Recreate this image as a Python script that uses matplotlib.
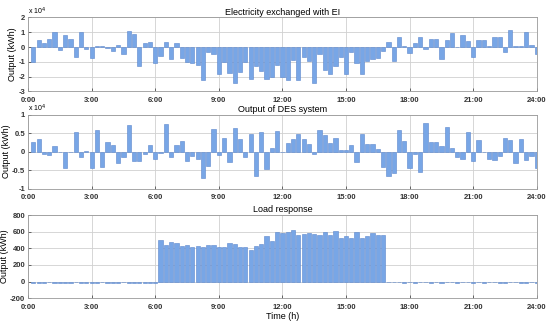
import numpy as np
import matplotlib.pyplot as plt

plt.rcParams['font.family'] = ['Liberation Sans', 'DejaVu Sans']

# 15-min steps, hours
hours = np.arange(1, 97) * 0.25

# electricity exchanged with EI (x 10^4 kWh)
exchange_e4 = [-1.0, 0.5, 0.3, 0.55, 1.0, -0.2, 0.8, 0.55, -0.7, 1.0, -0.15, -0.75,
               0.1, 0.05, -0.05, -0.25, 0.15, -0.5, 1.05, 0.9, -1.25, 0.3, 0.35,
               -1.1, -0.6, 0.35, -0.8, 0.25, -0.75, -1.0, -1.05, -1.2, -2.2, -0.35, -0.5,
               -1.85, -1.0, -1.75, -2.45, -1.7, -1.0, -2.15, -1.3, -1.6, -2.15, -2.05, -1.2,
               -2.0, -2.25, -0.85, -2.2, -0.7, -0.95, -2.4, -0.5, -1.55, -1.85, -1.25, -0.7,
               -1.8, -0.35, -1.05, -1.8, -0.95, -0.8, -0.75, -0.3, 0.35, -0.95, 0.65, 0.1,
               -0.4, 0.25, 0.65, -0.15, 0.55, 0.55, -0.8, 0.5, 0.95, 0.0, 0.8, 0.4,
               -0.7, 0.5, 0.5, 0.05, 0.7, 0.65, -0.35, 1.15, 0.05, 0.05, 1.0, 0.15, -0.45]

# output of DES system (x 10^4 kWh)
des_e4 = [0.25, 0.35, -0.05, -0.1, 0.15, -0.02, -0.45, -0.02, 0.52, -0.15, 0.02, -0.45,
          0.58, -0.42, 0.25, 0.17, -0.3, -0.15, 0.72, -0.25, -0.25, -0.05, 0.17, -0.2,
          -0.03, 0.75, -0.15, 0.18, 0.3, -0.25, -0.12, -0.2, -0.7, -0.4, 0.6, -0.1,
          0.38, -0.28, 0.65, 0.35, -0.15, 0.47, -0.65, 0.53, -0.48, 0.1, 0.55, 0.0,
          0.23, 0.35, 0.48, 0.33, 0.22, -0.05, 0.58, 0.45, 0.23, 0.37, 0.05, 0.05,
          0.18, -0.28, 0.48, 0.22, 0.22, 0.06, -0.42, -0.65, -0.58, 0.58, 0.3, -0.45,
          -0.05, -0.55, 0.78, 0.25, 0.25, 0.15, 0.67, 0.1, -0.15, -0.2, 0.52, -0.25,
          0.32, 0.0, -0.2, -0.22, -0.12, 0.37, 0.32, -0.3, 0.35, -0.22, -0.12, -0.45]

# load response (kWh)
load = [-15, -12, -18, -10, -14, -20, -12, -16, -10, -18, -14, -12,
        -16, -10, -14, -12, -18, -10, -14, -16, -12, -18, -14, -16,
        500, 440, 475, 460, 430, 440, 410, 425, 415, 440, 435, 420,
        415, 465, 455, 415, 420, 380, 430, 450, 550, 490, 600, 590,
        600, 615, 560, 575, 590, 575, 560, 595, 565, 605, 530, 545,
        530, 595, 530, 545, 585, 565, 555,
        -8, -10, -6, -12, -8, -14, -10, -6, -12, -10, -14, -8, -10, -12,
        -6, -10, -14, -8, -12, -10, -6, -12, -14, -10, -8, -12, -14, -10, -12]

xticks = [0, 3, 6, 9, 12, 15, 18, 21, 24]
xlabels = ['0:00', '3:00', '6:00', '9:00', '12:00', '15:00', '18:00', '21:00', '24:00']

bar_c = '#78a6e6'
edge_c = '#5a86cc'

fig = plt.figure(figsize=(5.5, 3.22), dpi=100)
ax1 = fig.add_axes([0.051, 0.716, 0.925, 0.230])
ax2 = fig.add_axes([0.051, 0.414, 0.925, 0.230])
ax3 = fig.add_axes([0.051, 0.074, 0.925, 0.258])

panels = [
    (ax1, exchange_e4, 'Electricity exchanged with EI', (-3, 2), [-3, -2, -1, 0, 1, 2], True),
    (ax2, des_e4, 'Output of DES system', (-1, 1), [-1, -0.5, 0, 0.5, 1], True),
    (ax3, load, 'Load response', (-200, 800), [-200, 0, 200, 400, 600, 800], False),
]

for ax, vals, title, ylim, yt, sci in panels:
    ax.bar(hours, vals, width=0.2, color=bar_c, edgecolor=edge_c, linewidth=0.4, zorder=3)
    ax.set_xlim(0, 24)
    ax.set_ylim(*ylim)
    ax.set_xticks(xticks)
    ax.set_xticklabels(xlabels, fontsize=5.5, fontweight='bold')
    ax.set_yticks(yt)
    ax.set_yticklabels([('%g' % v) for v in yt], fontsize=5.5, fontweight='bold')
    ax.grid(True, color='#d0d0d0', linewidth=0.6, zorder=0)
    ax.tick_params(direction='in', length=2, width=0.5, colors='#333333')
    ax.tick_params(axis='x', pad=4)
    ax.tick_params(axis='y', pad=2)
    for s in ax.spines.values():
        s.set_color('#999999')
        s.set_linewidth(0.6)
    ax.set_title(title, fontsize=6.5, pad=2)
    ax.set_ylabel('Output (kWh)', fontsize=6.5, labelpad=1)
    if sci:
        ax.text(0.0, 1.01, r'x 10$^4$', transform=ax.transAxes, fontsize=5,
                ha='left', va='bottom')

ax3.set_xlabel('Time (h)', fontsize=6.5, labelpad=1)

fig.savefig('out.png', dpi=100)
